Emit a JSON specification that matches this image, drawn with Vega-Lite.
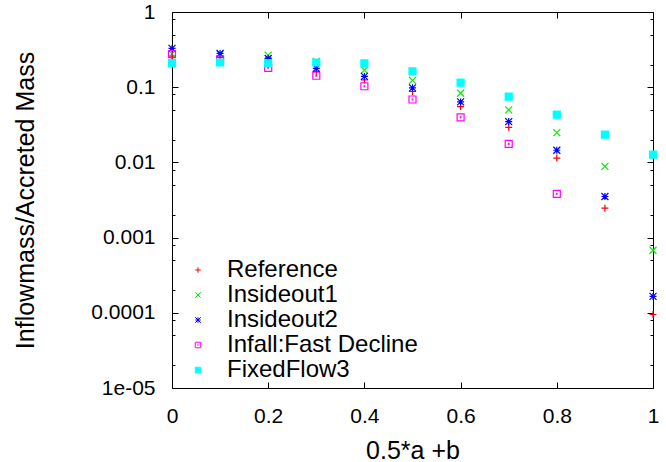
{
  "$schema": "https://vega.github.io/schema/vega-lite/v6.json",
  "width": 481,
  "height": 376,
  "autosize": {"type": "none"},
  "padding": {"left": 172, "top": 12, "right": 13, "bottom": 74},
  "background": "white",
  "config": {
    "font": "Liberation Sans",
    "view": {"stroke": "black", "strokeWidth": 1},
    "axis": {"grid": false, "domain": false, "labelColor": "black", "titleColor": "black", "tickColor": "black", "tickWidth": 1}
  },
  "data": {
    "values": [
      {"x": 0.0, "v": 0.259, "s": "Reference"},
      {"x": 0.1, "v": 0.249, "s": "Reference"},
      {"x": 0.2, "v": 0.232, "s": "Reference"},
      {"x": 0.3, "v": 0.162, "s": "Reference"},
      {"x": 0.4, "v": 0.125, "s": "Reference"},
      {"x": 0.5, "v": 0.0876, "s": "Reference"},
      {"x": 0.6, "v": 0.0552, "s": "Reference"},
      {"x": 0.7, "v": 0.0293, "s": "Reference"},
      {"x": 0.8, "v": 0.0114, "s": "Reference"},
      {"x": 0.9, "v": 0.00246, "s": "Reference"},
      {"x": 1.0, "v": 0.000095, "s": "Reference"},
      {"x": 0.0, "v": 0.278, "s": "Insideout1"},
      {"x": 0.1, "v": 0.275, "s": "Insideout1"},
      {"x": 0.2, "v": 0.267, "s": "Insideout1"},
      {"x": 0.3, "v": 0.22, "s": "Insideout1"},
      {"x": 0.4, "v": 0.169, "s": "Insideout1"},
      {"x": 0.5, "v": 0.123, "s": "Insideout1"},
      {"x": 0.6, "v": 0.0832, "s": "Insideout1"},
      {"x": 0.7, "v": 0.0499, "s": "Insideout1"},
      {"x": 0.8, "v": 0.0249, "s": "Insideout1"},
      {"x": 0.9, "v": 0.00885, "s": "Insideout1"},
      {"x": 1.0, "v": 0.000678, "s": "Insideout1"},
      {"x": 0.0, "v": 0.328, "s": "Insideout2"},
      {"x": 0.1, "v": 0.281, "s": "Insideout2"},
      {"x": 0.2, "v": 0.241, "s": "Insideout2"},
      {"x": 0.3, "v": 0.178, "s": "Insideout2"},
      {"x": 0.4, "v": 0.139, "s": "Insideout2"},
      {"x": 0.5, "v": 0.098, "s": "Insideout2"},
      {"x": 0.6, "v": 0.0637, "s": "Insideout2"},
      {"x": 0.7, "v": 0.0349, "s": "Insideout2"},
      {"x": 0.8, "v": 0.0145, "s": "Insideout2"},
      {"x": 0.9, "v": 0.00352, "s": "Insideout2"},
      {"x": 1.0, "v": 0.000165, "s": "Insideout2"},
      {"x": 0.0, "v": 0.275, "s": "Infall:Fast Decline"},
      {"x": 0.1, "v": 0.235, "s": "Infall:Fast Decline"},
      {"x": 0.2, "v": 0.181, "s": "Infall:Fast Decline"},
      {"x": 0.3, "v": 0.142, "s": "Infall:Fast Decline"},
      {"x": 0.4, "v": 0.103, "s": "Infall:Fast Decline"},
      {"x": 0.5, "v": 0.0686, "s": "Infall:Fast Decline"},
      {"x": 0.6, "v": 0.0398, "s": "Infall:Fast Decline"},
      {"x": 0.7, "v": 0.0176, "s": "Infall:Fast Decline"},
      {"x": 0.8, "v": 0.00382, "s": "Infall:Fast Decline"},
      {"x": 0.0, "v": 0.209, "s": "FixedFlow3"},
      {"x": 0.1, "v": 0.213, "s": "FixedFlow3"},
      {"x": 0.2, "v": 0.209, "s": "FixedFlow3"},
      {"x": 0.3, "v": 0.213, "s": "FixedFlow3"},
      {"x": 0.4, "v": 0.207, "s": "FixedFlow3"},
      {"x": 0.5, "v": 0.162, "s": "FixedFlow3"},
      {"x": 0.6, "v": 0.115, "s": "FixedFlow3"},
      {"x": 0.7, "v": 0.0751, "s": "FixedFlow3"},
      {"x": 0.8, "v": 0.0432, "s": "FixedFlow3"},
      {"x": 0.9, "v": 0.0234, "s": "FixedFlow3"},
      {"x": 1.0, "v": 0.0127, "s": "FixedFlow3"}
    ]
  },
  "resolve": {"axis": {"x": "independent", "y": "independent"}},
  "layer": [
    {
      "mark": {"type": "point", "size": 49, "strokeWidth": 1.2, "opacity": 1},
      "encoding": {
        "x": {"field": "x", "type": "quantitative", "scale": {"domain": [0, 1], "nice": false},
          "axis": {"orient": "bottom", "values": [0, 0.2, 0.4, 0.6, 0.8, 1], "format": "~g", "ticks": false, "labelFontSize": 21, "labelPadding": 17, "labelFlush": false,
            "title": "0.5*a +b", "titleFontSize": 25, "titleFontWeight": "normal", "titleBaseline": "alphabetic", "titleX": 240.5, "titleY": 70, "titleAlign": "center"}},
        "y": {"field": "v", "type": "quantitative", "scale": {"type": "log", "domain": [0.00001, 1], "nice": false},
          "axis": {"orient": "left", "values": [1, 0.1, 0.01, 0.001, 0.0001, 0.00001], "ticks": false, "labelFontSize": 21, "labelPadding": 17, "labelFlush": false,
            "labelExpr": "datum.value < 0.00005 ? '1e-05' : format(datum.value, '~g')",
            "title": "Inflowmass/Accreted Mass", "titleFontSize": 25, "titleFontWeight": "normal", "titleAngle": -90, "titleBaseline": "alphabetic", "titleX": -139, "titleY": 188, "titleAlign": "center"}},
        "stroke": {"field": "s", "type": "nominal",
          "scale": {"domain": ["Reference", "Insideout1", "Insideout2", "Infall:Fast Decline", "FixedFlow3"], "range": ["#ff0000", "#00ee00", "#0000ff", "#ff00ff", "#00ffff"]},
          "legend": {"orient": "none", "legendX": 14, "legendY": 246, "title": null, "labelFontSize": 24, "labelColor": "black", "labelLimit": 400, "symbolSize": 30, "symbolStrokeWidth": 1, "labelOffset": 17, "rowPadding": 1, "padding": 0}},
        "fill": {"field": "s", "type": "nominal",
          "scale": {"domain": ["Reference", "Insideout1", "Insideout2", "Infall:Fast Decline", "FixedFlow3"], "range": ["transparent", "transparent", "transparent", "transparent", "#00ffff"]},
          "legend": {"orient": "none", "legendX": 14, "legendY": 246, "title": null, "labelFontSize": 24, "labelColor": "black", "labelLimit": 400, "symbolSize": 30, "symbolStrokeWidth": 1, "labelOffset": 17, "rowPadding": 1, "padding": 0}},
        "shape": {"field": "s", "type": "nominal",
          "scale": {"domain": ["Reference", "Insideout1", "Insideout2", "Infall:Fast Decline", "FixedFlow3"],
            "range": ["M-1,0H1M0,-1V1", "M-1,-1L1,1M-1,1L1,-1", "M-1,0H1M0,-1V1M-1,-1L1,1M-1,1L1,-1", "M-1,-1H1V1H-1ZM-0.1,-0.1H0.1V0.1H-0.1Z", "square"]},
          "legend": {"orient": "none", "legendX": 14, "legendY": 246, "title": null, "labelFontSize": 24, "labelColor": "black", "labelLimit": 400, "symbolSize": 30, "symbolStrokeWidth": 1, "labelOffset": 17, "rowPadding": 1, "padding": 0}}
      }
    },
    {
      "mark": {"type": "point", "opacity": 0},
      "encoding": {
        "x": {"field": "x", "type": "quantitative", "scale": {"domain": [0, 1], "nice": false},
          "axis": {"orient": "bottom", "values": [0, 0.2, 0.4, 0.6, 0.8, 1], "labels": false, "title": null, "tickSize": -6}},
        "y": {"field": "v", "type": "quantitative", "scale": {"type": "log", "domain": [0.00001, 1], "nice": false},
          "axis": {"orient": "left", "values": [1, 0.1, 0.01, 0.001, 0.0001, 0.00001], "labels": false, "title": null, "tickSize": -6}}
      }
    },
    {
      "mark": {"type": "point", "opacity": 0},
      "encoding": {
        "x": {"field": "x", "type": "quantitative", "scale": {"domain": [0, 1], "nice": false},
          "axis": {"orient": "top", "values": [0, 0.2, 0.4, 0.6, 0.8, 1], "labels": false, "title": null, "tickSize": -6}},
        "y": {"field": "v", "type": "quantitative", "scale": {"type": "log", "domain": [0.00001, 1], "nice": false},
          "axis": {"orient": "left", "values": [0.8, 0.5, 0.2, 0.08, 0.05, 0.02, 0.008, 0.005, 0.002, 0.0008, 0.0005, 0.0002, 0.00008, 0.00005, 0.00002], "labels": false, "title": null, "tickSize": -3}}
      }
    },
    {
      "mark": {"type": "point", "opacity": 0},
      "encoding": {
        "x": {"field": "x", "type": "quantitative", "scale": {"domain": [0, 1], "nice": false}, "axis": null},
        "y": {"field": "v", "type": "quantitative", "scale": {"type": "log", "domain": [0.00001, 1], "nice": false},
          "axis": {"orient": "right", "values": [1, 0.1, 0.01, 0.001, 0.0001, 0.00001], "labels": false, "title": null, "tickSize": -6}}
      }
    },
    {
      "mark": {"type": "point", "opacity": 0},
      "encoding": {
        "x": {"field": "x", "type": "quantitative", "scale": {"domain": [0, 1], "nice": false}, "axis": null},
        "y": {"field": "v", "type": "quantitative", "scale": {"type": "log", "domain": [0.00001, 1], "nice": false},
          "axis": {"orient": "right", "values": [0.8, 0.5, 0.2, 0.08, 0.05, 0.02, 0.008, 0.005, 0.002, 0.0008, 0.0005, 0.0002, 0.00008, 0.00005, 0.00002], "labels": false, "title": null, "tickSize": -3}}
      }
    }
  ]
}
